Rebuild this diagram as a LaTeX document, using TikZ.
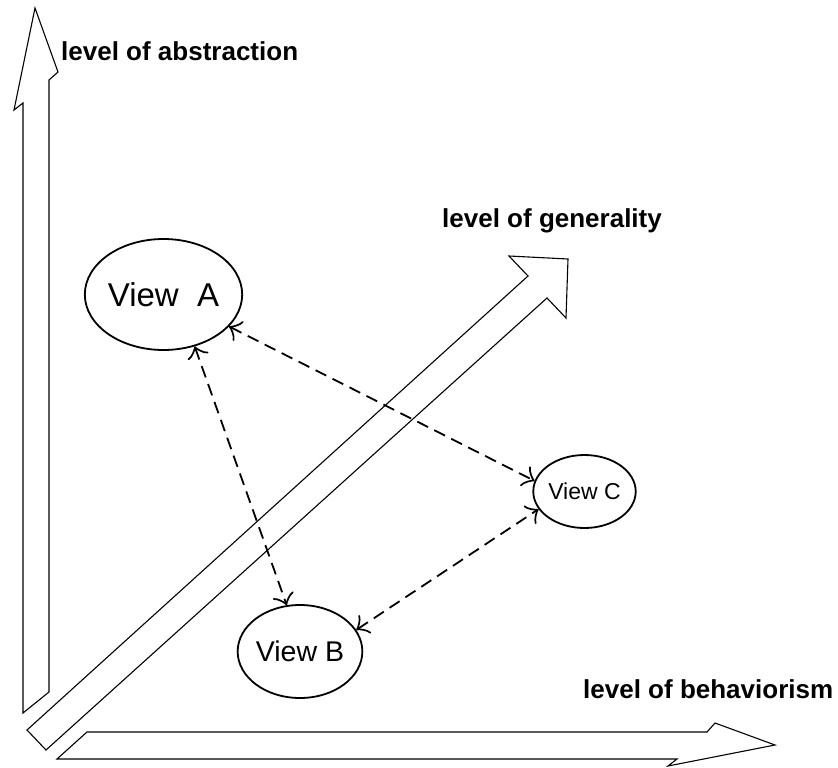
\documentclass[tikz,border=0pt]{standalone}
\usepackage{fontspec}
\setmainfont{Liberation Sans}
\usetikzlibrary{arrows.meta,shapes.geometric}
\begin{document}
\begin{tikzpicture}[x=1pt,y=-1pt,
  axisarrow/.style={draw=black,line width=1.1pt,line join=miter},
  axislabel/.style={anchor=base west,inner sep=0pt,font=\fontsize{26}{30}\selectfont\bfseries},
  view/.style={draw=black,line width=1.8pt,ellipse,inner sep=0pt},
  dashconn/.style={line width=1.8pt,dash pattern=on 12pt off 7pt,
    {Classical TikZ Rightarrow[length=11pt,width=22pt,line width=1.7pt]}-{Classical TikZ Rightarrow[length=11pt,width=22pt,line width=1.7pt]}}
]
\useasboundingbox (0,0) rectangle (838,768);

% three hollow axis arrows
\path[axisarrow] (23,713) -- (23,103) -- (14,110) -- (35,8) -- (58,72) -- (49,80) -- (49,692) -- cycle;
\path[axisarrow] (27,730) -- (528,276) -- (509,256) -- (568,259) -- (566,318) -- (547,298) -- (46,750) -- cycle;
\path[axisarrow] (87,732) -- (707,732) -- (715,723) -- (775,745) -- (668,766) -- (677,759) -- (57,759) -- cycle;

% axis labels
\node[axislabel] (abs) at (61,60) {level of abstraction};
\node[axislabel] (gen) at (442,227) {level of generality};
\node[axislabel] (beh) at (583,698) {level of behaviorism};

% the three views
\node[view,minimum width=143pt,minimum height=111pt,font=\fontsize{33}{36}\selectfont] (A) at (163.5,294.5) {View\ \ A};
\node[view,minimum width=120pt,minimum height=93pt,font=\fontsize{28.5}{32}\selectfont] (B) at (300,651.5) {View B};
\node[view,minimum width=95pt,minimum height=73pt,font=\fontsize{23}{26}\selectfont] (C) at (584.5,491.5) {View C};

% relations between views
\draw[dashconn] (A.-26) -- (C.168);
\draw[dashconn] (A.-59) -- (B.106);
\draw[dashconn] (B.21) -- (C.-159);
\end{tikzpicture}
\end{document}
